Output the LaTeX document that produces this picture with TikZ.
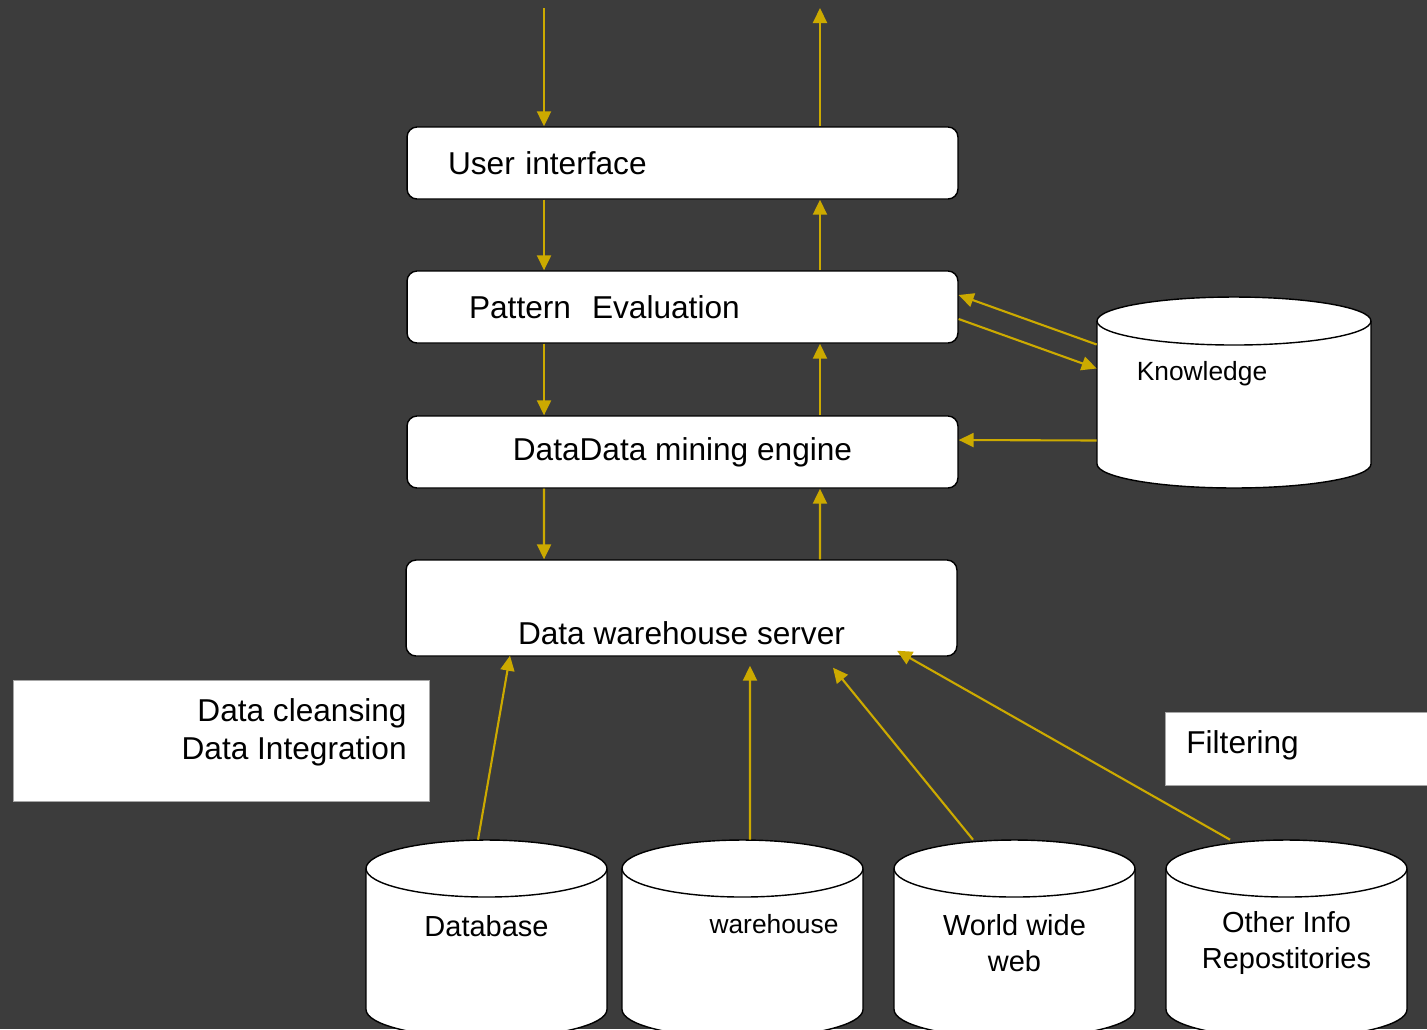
\documentclass[tikz,border=0pt]{standalone}
\usepackage{fontspec}
\setmainfont{Liberation Sans}
\usetikzlibrary{shapes.geometric, arrows.meta, positioning, calc}
\definecolor{slate}{RGB}{60,60,60}
\definecolor{gold}{RGB}{204,170,0}
\tikzstyle{stage} = [rectangle, rounded corners=0.2cm, minimum width=11.02cm, minimum height=1.44cm, draw=black, line width=0.8pt, fill=white, font=\fontsize{18}{21.6}\selectfont]
\tikzstyle{drumline} = [draw=black, line width=0.8pt, fill=white]
\tikzstyle{storetext} = [inner sep=0pt, align=center, font=\fontsize{16.5}{20.5}\selectfont]
\tikzstyle{note} = [rectangle, draw=gray!70, line width=0.5pt, fill=white]
\tikzstyle{notetext} = [inner sep=0pt, font=\fontsize{18}{21.6}\selectfont]
\tikzstyle{arrow} = [gold, line width=1.2pt, -{Triangle[length=0.3cm, width=0.28cm]}]

% #1 name, #2 centre, #3 half width, #4 half height, #5 end radius (cm)
\newcommand{\drum}[5]{%
  \begin{scope}[shift={#2}, x=1cm, y=1cm]
    \path[drumline] (-#3,{#4-#5}) -- (-#3,{-#4+#5})
      arc[start angle=180, end angle=360, x radius=#3cm, y radius=#5cm]
      -- (#3,{#4-#5})
      arc[start angle=0, end angle=180, x radius=#3cm, y radius=#5cm] -- cycle;
    \draw[line width=0.8pt] (-#3,{#4-#5})
      arc[start angle=180, end angle=360, x radius=#3cm, y radius=#5cm];
    \node (#1) [inner sep=0pt, minimum width=2*#3cm, minimum height=2*#4cm] at (0,0) {};
  \end{scope}}

\begin{document}
\begin{tikzpicture}[x=0.02cm, y=-0.02cm]

\useasboundingbox (0,0) rectangle (1427,1029);
\fill[slate] (0,0) rectangle (1427,1029);

% the four stages
\node (ui) [stage, align=left, inner xsep=0.82cm, text width=9.38cm] at (682.5,163) {User interface};
\node (pe) [stage, align=left, inner xsep=1.24cm, text width=8.54cm] at (682.5,307) {Pattern\ \ Evaluation};
\node (dme) [stage] at (682.5,452) {DataData mining engine};
\node (dws) [stage, text height=1.44cm, text depth=0pt, inner ysep=0.24cm] at (681.5,608) {Data warehouse server};

% knowledge base
\drum{know}{(1234,392.5)}{2.74}{1.91}{0.48}
\node (knowtext) [storetext, font=\fontsize{15}{18}\selectfont] at ([shift={(-32,-19)}]know.center) {Knowledge};

% sources
\drum{db}{(486.5,939)}{2.41}{1.98}{0.57}
\drum{wh}{(742.5,939)}{2.41}{1.98}{0.57}
\drum{www}{(1014.5,939)}{2.41}{1.98}{0.57}
\drum{oth}{(1286.5,939)}{2.41}{1.98}{0.57}
\node (dbtext) [storetext] at ([shift={(0,-13)}]db.center) {Database};
\node (whtext) [storetext, font=\fontsize{15}{18}\selectfont] at ([shift={(31.5,-15)}]wh.center) {warehouse};
\node (wwwtext) [storetext] at ([shift={(0,4)}]www.center) {World wide\\web};
\node (othtext) [storetext] at ([shift={(0,4)}]oth.center) {Other Info\\Repostitories};

% side notes
\node (clean) [note, minimum width=8.32cm, minimum height=2.42cm] at (221,740.5) {};
\node (cleantext) [notetext, align=right, anchor=east] at (407,732) {Data cleansing\\Data Integration};
\node (filt) [note, minimum width=6cm, minimum height=1.46cm] at (1315,748.5) {};
\node (filttext) [notetext, anchor=west] at (1186,745) {Filtering};

\coordinate (intop) at (544,8);
\coordinate (outtop) at (820,8);

\draw [arrow] (intop) -- (intop |- ui.north);
\draw [arrow] (outtop |- ui.north) -- (outtop);
\draw [arrow] ([xshift=-2.77cm]ui.south) -- ([xshift=-2.77cm]pe.north);
\draw [arrow] ([xshift=2.75cm]pe.north) -- ([xshift=2.75cm]ui.south);
\draw [arrow] ([xshift=-2.77cm]pe.south) -- ([xshift=-2.77cm]dme.north);
\draw [arrow] ([xshift=2.75cm]dme.north) -- ([xshift=2.75cm]pe.south);
\draw [arrow] ([xshift=-2.77cm]dme.south) -- ([xshift=-2.75cm]dws.north);
\draw [arrow] ([xshift=2.77cm]dws.north) -- ([xshift=2.75cm]dme.south);

\draw [arrow] ([yshift=0.96cm]know.west) -- ([yshift=0.24cm]pe.east);
\draw [arrow] ([yshift=-0.24cm]pe.east) -- ([yshift=0.48cm]know.west);
\draw [arrow] ([yshift=-0.96cm]know.west) -- ([yshift=0.24cm]dme.east);

\draw [arrow] ([xshift=-0.17cm]db.north) -- ([shift={(-171.5,-1)}]dws.south);
\draw [arrow] ([xshift=0.15cm]wh.north) -- ([shift={(68.5,9)}]dws.south);
\draw [arrow] ([xshift=-0.83cm]www.north) -- ([shift={(151.5,11)}]dws.south);
\draw [arrow] ([xshift=-1.13cm]oth.north) -- ([shift={(215.5,-6)}]dws.south);

\end{tikzpicture}
\end{document}
